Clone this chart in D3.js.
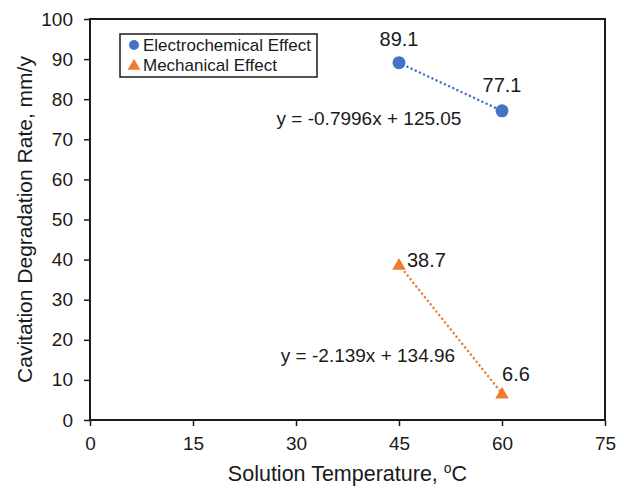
<!DOCTYPE html>
<html>
<head>
<meta charset="utf-8">
<script src="https://cdn.jsdelivr.net/npm/d3@7"></script>
<style>
  html, body { margin: 0; padding: 0; background: #fff; }
  svg { display: block; font-family: "Liberation Sans", Arial, sans-serif; }
</style>
</head>
<body>
<svg id="chart" width="624" height="489"></svg>
<script>
// Series data: temperature (°C) vs. cavitation degradation rate (mm/y)
const temperatures = [45, 60];
const electrochemical = [89.1, 77.1];
const mechanical = [38.7, 6.6];
const seriesNames = ["Electrochemical Effect", "Mechanical Effect"];

// Linear trendlines fitted to each series
const trendSlopes = [-0.7996, -2.139];
const trendIntercepts = [125.05, 134.96];
const trendLabels = ["y = -0.7996x + 125.05", "y = -2.139x + 134.96"];

// Axis ticks
const xTicks = [0, 15, 30, 45, 60, 75];
const yTicks = [0, 10, 20, 30, 40, 50, 60, 70, 80, 90, 100];

const colors = ["#4472C4", "#ED7D31"];
const ink = "#1a1a1a";

const svg = d3.select("#chart");
const plotL = 90, plotR = 605, plotT = 19, plotB = 420;

const x = d3.scaleLinear().domain([0, 75]).range([plotL, plotR]);
const y = d3.scaleLinear().domain([0, 100]).range([plotB, plotT]);

// Axes
const xAxis = svg.append("g")
  .attr("transform", `translate(0,${plotB})`)
  .call(d3.axisBottom(x).tickValues(xTicks).tickSize(6).tickPadding(4));
const yAxis = svg.append("g")
  .attr("transform", `translate(${plotL},0)`)
  .call(d3.axisLeft(y).tickValues(yTicks).tickSize(6).tickPadding(11));

[xAxis, yAxis].forEach(g => {
  g.select(".domain").remove();
  g.selectAll(".tick line").attr("stroke", ink).attr("stroke-width", 1.5);
  g.selectAll(".tick text").attr("font-size", 19).attr("fill", ink)
    .attr("font-family", "'Liberation Sans', Arial, sans-serif");
});
xAxis.selectAll(".tick text").attr("y", 30).attr("dy", 0);

// Plot frame
svg.append("rect")
  .attr("x", plotL).attr("y", plotT)
  .attr("width", plotR - plotL).attr("height", plotB - plotT)
  .attr("fill", "none").attr("stroke", ink).attr("stroke-width", 2);

// Axis titles
const xTitle = svg.append("text")
  .attr("x", (plotL + plotR) / 2).attr("y", 481)
  .attr("text-anchor", "middle").attr("font-size", 21.5).attr("fill", ink);
xTitle.append("tspan").text("Solution Temperature, ");
xTitle.append("tspan").attr("font-size", 14).attr("dy", -8).text("o");
xTitle.append("tspan").attr("dy", 8).text("C");

svg.append("text")
  .attr("transform", `translate(32,${(plotT + plotB) / 2}) rotate(-90)`)
  .attr("text-anchor", "middle").attr("font-size", 21).attr("fill", ink)
  .text("Cavitation Degradation Rate, mm/y");

const series = [electrochemical, mechanical];

// Dotted trendlines over the measured temperature range
const tExtent = d3.extent(temperatures);
series.forEach((vals, i) => {
  const pts = tExtent.map(t => [t, trendSlopes[i] * t + trendIntercepts[i]]);
  svg.append("path")
    .attr("d", d3.line().x(d => x(d[0])).y(d => y(d[1]))(pts))
    .attr("fill", "none").attr("stroke", colors[i])
    .attr("stroke-width", 2.5).attr("stroke-dasharray", "0.1,4.5")
    .attr("stroke-linecap", "round");
});

// Markers
const triangle = d3.symbol().type(d3.symbolTriangle).size(80);
svg.selectAll(".pt-e").data(temperatures).enter().append("circle")
  .attr("cx", d => x(d)).attr("cy", (d, j) => y(electrochemical[j]))
  .attr("r", 6.5).attr("fill", colors[0]);
svg.selectAll(".pt-m").data(temperatures).enter().append("path")
  .attr("d", triangle)
  .attr("transform", (d, j) => `translate(${x(d)},${y(mechanical[j]) + 1})`)
  .attr("fill", colors[1]);

// Data labels
const labelOffsets = [
  [[0, -24], [0, -26]],
  [[8, -5], [14, -20]]
];
const labelAnchors = [["middle", "middle"], ["start", "middle"]];
series.forEach((vals, i) => {
  vals.forEach((v, j) => {
    svg.append("text")
      .attr("x", x(temperatures[j]) + labelOffsets[i][j][0])
      .attr("y", y(v) + labelOffsets[i][j][1])
      .attr("dy", "0.35em")
      .attr("text-anchor", labelAnchors[i][j])
      .attr("font-size", 20).attr("fill", ink)
      .text(v);
  });
});

// Trendline equations
const eqPos = [[369, 118], [368, 355]];
trendLabels.forEach((t, i) => {
  svg.append("text")
    .attr("x", eqPos[i][0]).attr("y", eqPos[i][1]).attr("dy", "0.35em")
    .attr("text-anchor", "middle").attr("font-size", 19).attr("fill", ink)
    .text(t);
});

// Legend
const legend = svg.append("g");
legend.append("rect")
  .attr("x", 120).attr("y", 34).attr("width", 197).attr("height", 43)
  .attr("fill", "#fff").attr("stroke", ink).attr("stroke-width", 1.5);
seriesNames.forEach((name, i) => {
  const cy = 45 + i * 20;
  if (i === 0) {
    legend.append("circle").attr("cx", 134).attr("cy", cy).attr("r", 5).attr("fill", colors[0]);
  } else {
    legend.append("path").attr("d", d3.symbol().type(d3.symbolTriangle).size(70))
      .attr("transform", `translate(134,${cy + 1})`).attr("fill", colors[1]);
  }
  legend.append("text")
    .attr("x", 143).attr("y", cy).attr("dy", "0.35em")
    .attr("font-size", 17).attr("fill", ink).text(name);
});
</script>
</body>
</html>
